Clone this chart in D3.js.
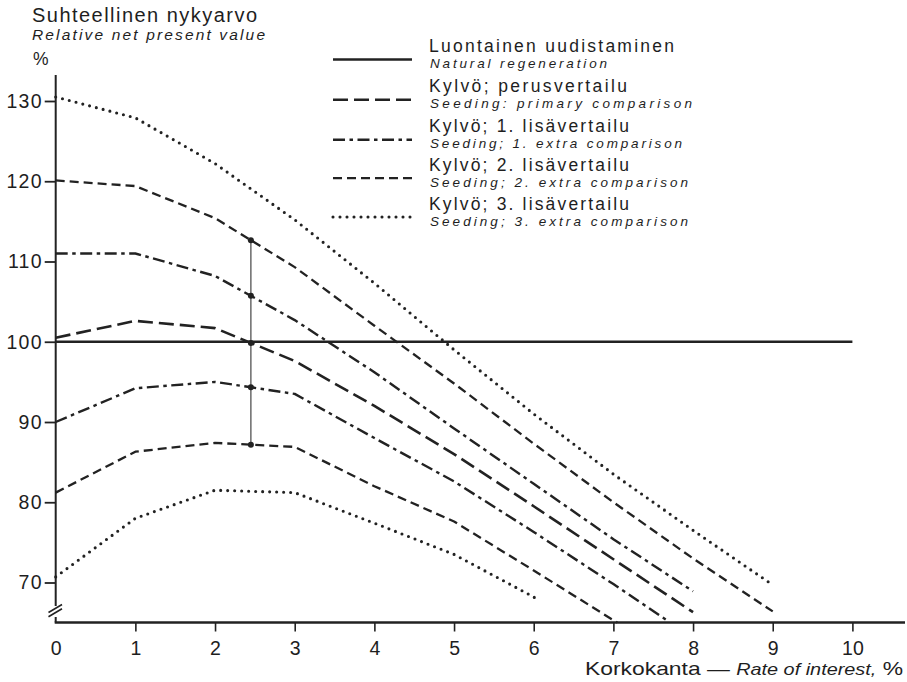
<!DOCTYPE html>
<html>
<head>
<meta charset="utf-8">
<script src="https://cdn.jsdelivr.net/npm/d3@7"></script>
<style>
  body { margin: 0; background: #fff; }
  svg { display: block; }
  text { font-family: "Liberation Sans", Arial, Helvetica, sans-serif; fill: #1e1e1e; }
</style>
</head>
<body>
<svg id="chart" width="907" height="682"></svg>
<script>
// Interest rates on the x axis and value ticks on the y axis
const xTickValues = [0, 1, 2, 3, 4, 5, 6, 7, 8, 9, 10];
const yTickValues = [70, 80, 90, 100, 110, 120, 130];

// Relative net present value (%) by rate of interest (%), as [rate, value]
const naturalRegeneration = [[0, 100], [10, 100]];
const seedingPrimary = [[0, 100.5], [1, 102.6], [2, 101.7], [3, 97.6], [4, 92.0], [5, 86.0], [6, 79.5], [7, 72.9], [8, 66.3]];
const seedingExtra1Upper = [[0, 111.0], [1, 111.0], [2, 108.2], [3, 102.7], [4, 96.2], [5, 89.2], [6, 82.3], [7, 75.4], [8, 68.9]];
const seedingExtra1Lower = [[0, 90.0], [1, 94.2], [2, 95.0], [3, 93.5], [4, 88.0], [5, 82.6], [6, 76.3], [7, 69.8], [7.7, 65.1]];
const seedingExtra2Upper = [[0, 120.1], [1, 119.4], [2, 115.4], [3, 109.3], [4, 102.0], [5, 94.8], [6, 87.3], [7, 80.0], [8, 73.0], [9, 66.4]];
const seedingExtra2Lower = [[0, 81.2], [1, 86.3], [2, 87.4], [3, 86.9], [4, 82.0], [5, 77.6], [6, 71.5], [7, 65.3], [7.05, 65.0]];
const seedingExtra3Upper = [[0, 130.5], [1, 127.9], [2, 122.2], [3, 115.2], [4, 107.3], [5, 99.0], [6, 91.0], [7, 83.5], [8, 76.5], [9, 69.7]];
const seedingExtra3Lower = [[0, 70.7], [1, 78.0], [2, 81.5], [3, 81.2], [4, 77.4], [5, 73.5], [6, 68.2], [6.05, 67.8]];

// Rate at which the comparison marker crosses the curves
const markerRate = 2.45;

// Line styles
const styles = {
  solid:   { width: 2.7, dash: null, cap: "butt" },
  long:    { width: 2.6, dash: "15 6", cap: "butt" },
  dashdot: { width: 2.4, dash: "12 4.5 3.5 4.5", cap: "butt" },
  short:   { width: 2.3, dash: "9 5", cap: "butt" },
  dotted:  { width: 3.1, dash: "0 7", cap: "round" }
};

const series = [
  { data: naturalRegeneration, style: "solid" },
  { data: seedingPrimary, style: "long" },
  { data: seedingExtra1Upper, style: "dashdot" },
  { data: seedingExtra1Lower, style: "dashdot" },
  { data: seedingExtra2Upper, style: "short" },
  { data: seedingExtra2Lower, style: "short" },
  { data: seedingExtra3Upper, style: "dotted" },
  { data: seedingExtra3Lower, style: "dotted" }
];

const legendItems = [
  { fi: "Luontainen uudistaminen", en: "Natural regeneration", style: "solid", fiLen: 245, enLen: 177 },
  { fi: "Kylvö; perusvertailu", en: "Seeding: primary comparison", style: "long", fiLen: 198, enLen: 262 },
  { fi: "Kylvö; 1. lisävertailu", en: "Seeding; 1. extra comparison", style: "dashdot", fiLen: 200, enLen: 252 },
  { fi: "Kylvö; 2. lisävertailu", en: "Seeding; 2. extra comparison", style: "short", fiLen: 200, enLen: 258 },
  { fi: "Kylvö; 3. lisävertailu", en: "Seeding; 3. extra comparison", style: "dotted", fiLen: 200, enLen: 258 }
];

const ink = "#222";
const svg = d3.select("#chart");

const x = d3.scaleLinear().domain([0, 10]).range([55.7, 852.4]);
const y = d3.scaleLinear().domain([70, 130]).range([582.5, 101]);

const axisY = 622.5;      // pixel row of the horizontal axis
const axisTop = 75;       // top end of the vertical axis

function applyStyle(sel, key) {
  const s = styles[key];
  sel.attr("fill", "none")
     .attr("stroke", ink)
     .attr("stroke-width", s.width)
     .attr("stroke-linecap", s.cap)
     .attr("stroke-linejoin", "round");
  if (s.dash) sel.attr("stroke-dasharray", s.dash);
}

// ---- Axis titles
svg.append("text").attr("x", 32).attr("y", 21.5)
  .attr("font-size", 20).attr("textLength", 225).attr("lengthAdjust", "spacing")
  .text("Suhteellinen nykyarvo");
svg.append("text").attr("x", 32).attr("y", 40)
  .attr("font-size", 15.5).attr("font-style", "italic")
  .attr("textLength", 233).attr("lengthAdjust", "spacing")
  .text("Relative net present value");
svg.append("text").attr("x", 33).attr("y", 65).attr("font-size", 17.5).text("%");

const xTitle = svg.append("text").attr("x", 585).attr("y", 675)
  .attr("font-size", 19).attr("textLength", 318).attr("lengthAdjust", "spacingAndGlyphs");
xTitle.append("tspan").text("Korkokanta — ");
xTitle.append("tspan").attr("font-style", "italic").attr("font-size", 16.5).text("Rate of interest,");
xTitle.append("tspan").text(" %");

// ---- Y axis (ticks and labels from d3.axisLeft, own domain line with a break)
const gy = svg.append("g").attr("transform", `translate(${x(0)},0)`)
  .call(d3.axisLeft(y).tickValues(yTickValues).tickSize(11).tickPadding(2).tickFormat(d3.format("d")));
gy.select(".domain").remove();
gy.selectAll(".tick line").attr("stroke", ink).attr("stroke-width", 1.8);
gy.selectAll(".tick text").attr("font-size", 19.5).attr("letter-spacing", 1.2)
  .style("font-family", '"Liberation Sans", Arial, sans-serif').attr("fill", "#1e1e1e");

svg.append("line").attr("x1", x(0)).attr("x2", x(0)).attr("y1", axisTop).attr("y2", 606)
  .attr("stroke", ink).attr("stroke-width", 2);
svg.append("line").attr("x1", x(0)).attr("x2", x(0)).attr("y1", 617).attr("y2", axisY)
  .attr("stroke", ink).attr("stroke-width", 2);
[[0], [4.2]].forEach(([o]) => {
  svg.append("line")
    .attr("x1", 48.5).attr("y1", 612.5 + o).attr("x2", 62).attr("y2", 604.5 + o)
    .attr("stroke", ink).attr("stroke-width", 1.6);
});

// ---- X axis
const gx = svg.append("g").attr("transform", `translate(0,${axisY})`)
  .call(d3.axisBottom(x).tickValues(xTickValues).tickSize(9).tickPadding(6).tickFormat(d3.format("d")));
gx.select(".domain").remove();
gx.selectAll(".tick line").attr("stroke", ink).attr("stroke-width", 1.6)
  .attr("opacity", d => d === 0 ? 0 : 1);
gx.selectAll(".tick text").attr("font-size", 19.5).attr("y", 32).attr("dy", 0)
  .style("font-family", '"Liberation Sans", Arial, sans-serif').attr("fill", "#1e1e1e");
svg.append("line").attr("x1", x(0) - 1).attr("x2", 905).attr("y1", axisY).attr("y2", axisY)
  .attr("stroke", ink).attr("stroke-width", 2.6);

// ---- Curves
const line = d3.line().x(d => x(d[0])).y(d => y(d[1]));
series.forEach(s => {
  svg.append("path").datum(s.data).attr("d", line).call(applyStyle, s.style);
});

// ---- Comparison marker at the chosen rate: thin vertical line with dots on each curve
function valueAt(data, r) {
  for (let i = 1; i < data.length; i++) {
    const [x0, y0] = data[i - 1], [x1, y1] = data[i];
    if (r >= x0 && r <= x1) return y0 + (y1 - y0) * (r - x0) / (x1 - x0);
  }
  return null;
}
const markerSeries = [seedingExtra2Upper, seedingExtra1Upper, seedingPrimary, seedingExtra1Lower, seedingExtra2Lower];
const markerValues = markerSeries.map(d => valueAt(d, markerRate));
svg.append("line")
  .attr("x1", x(markerRate)).attr("x2", x(markerRate))
  .attr("y1", y(d3.max(markerValues))).attr("y2", y(d3.min(markerValues)))
  .attr("stroke", "#444").attr("stroke-width", 1.2);
svg.selectAll("circle.marker").data(markerValues).join("circle")
  .attr("class", "marker")
  .attr("cx", x(markerRate)).attr("cy", d => y(d)).attr("r", 3).attr("fill", ink);

// ---- Legend: line sample, Finnish label, English label in italics below it
const lg = svg.append("g");
const legendTop = [53, 93.3, 133.3, 171.7, 210.5];
legendItems.forEach((item, i) => {
  const base = legendTop[i];
  lg.append("line").attr("x1", 333).attr("x2", 412)
    .attr("y1", base + 6.5).attr("y2", base + 6.5)
    .call(applyStyle, item.style);
  lg.append("text").attr("x", 429).attr("y", base - 1)
    .attr("font-size", 17.5).attr("textLength", item.fiLen).attr("lengthAdjust", "spacing")
    .text(item.fi);
  lg.append("text").attr("x", 430).attr("y", base + 15)
    .attr("font-size", 13.5).attr("font-style", "italic")
    .attr("textLength", item.enLen).attr("lengthAdjust", "spacing")
    .text(item.en);
});
</script>
</body>
</html>
